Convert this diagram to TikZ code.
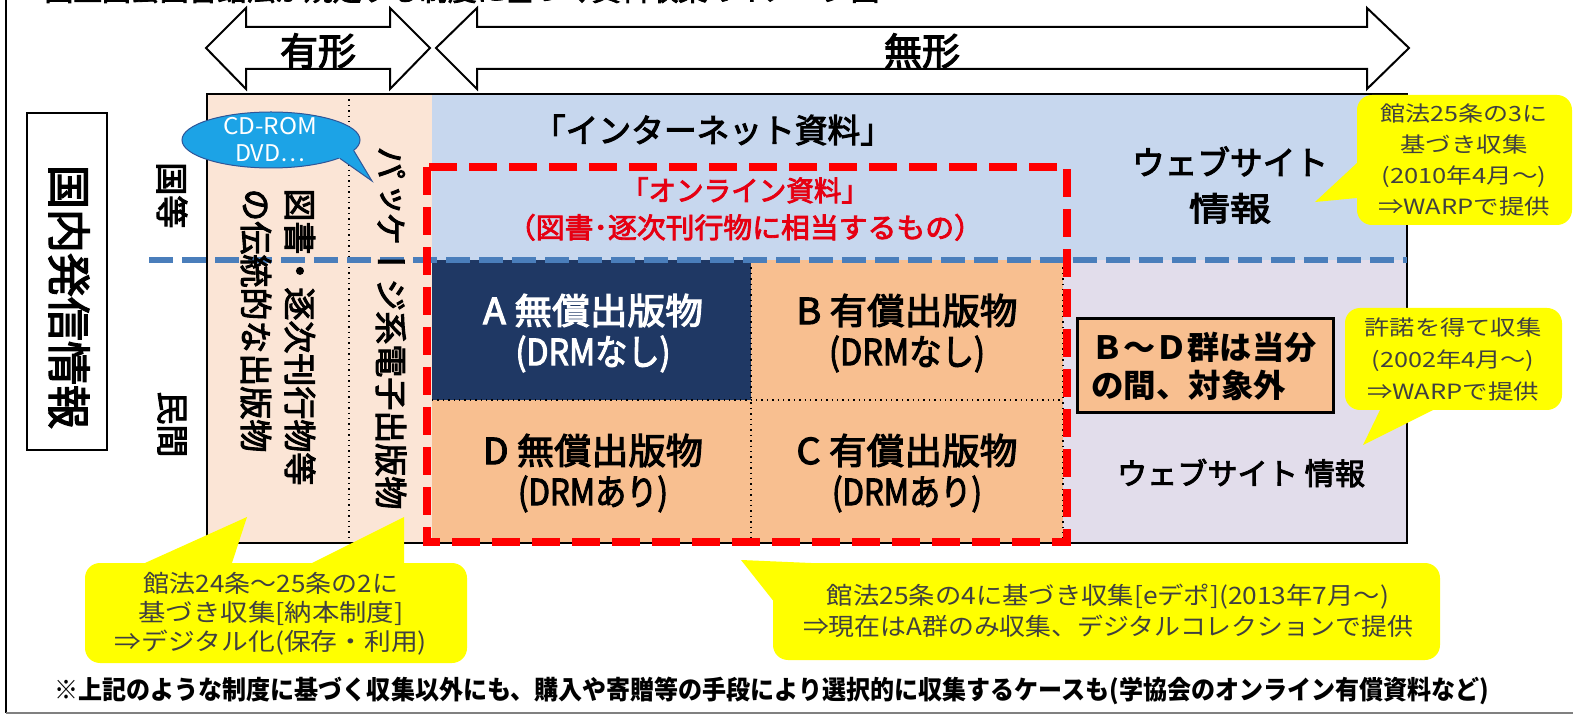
\documentclass[tikz,border=0pt]{standalone}
\usepackage{fontspec}
\usepackage{graphicx}
\setmainfont{Noto Sans CJK JP}[FakeBold=3]
\newfontfamily\vjp[Vertical=RotatedGlyphs, FakeBold=3]{Noto Sans CJK JP}
\newfontfamily\jp{Noto Sans CJK JP}
\newlength\upx
\setlength\upx{0.5pt}
\newcommand{\fw}[2]{\resizebox{#1\upx}{\height}{#2}}
\definecolor{beige}{HTML}{FBE5D6}
\definecolor{blueR}{HTML}{C7D7EE}
\definecolor{lav}{HTML}{E2DDEB}
\definecolor{orng}{HTML}{F8BF90}
\definecolor{navy}{HTML}{1F3864}
\definecolor{dashblue}{HTML}{4A7EBB}
\definecolor{redd}{HTML}{FF0000}
\definecolor{bubY}{HTML}{FFFF00}
\definecolor{cdblue}{HTML}{1CA3E6}
\definecolor{cdedge}{HTML}{2F5597}
\definecolor{btxt}{HTML}{404040}
\definecolor{redtxt}{HTML}{E60012}
\tikzset{
  vtxt/.style={rotate=-90, inner sep=0pt},
  lbl/.style={inner sep=0pt, align=center},
  bubble/.style={fill=bubY, rounded corners=7.5pt},
  btext/.style={inner sep=0pt, align=center, text=btxt},
  blockarrow/.style={fill=white, draw=black, line width=1pt, line join=miter},
  dotln/.style={dotted, line width=0.7pt},
}
\begin{document}
\begin{tikzpicture}[x=0.5pt,y=-0.5pt]
\useasboundingbox (0,0) rectangle (1573,715);
\begin{scope}
\clip (0,0) rectangle (1573,715);
% title (cut off at the top)
\node[lbl, font=\fontsize{14}{14}\selectfont] (title) at (462,-10) {\fw{835}{国立国会図書館法が規定する制度に基づく資料収集のイメージ図}};

% regions
\fill[beige] (207,94) rectangle (432,543);
\fill[blueR] (432,94) rectangle (1407,260);
\fill[lav] (1063,260) rectangle (1407,543);
\fill[navy] (432,260) rectangle (751,400);
\fill[orng] (751,260) rectangle (1063,400);
\fill[orng] (432,400) rectangle (751,543);
\fill[orng] (751,400) rectangle (1063,543);
\draw[line width=0.8pt] (207,94) rectangle (1407,543);
\draw[dotln] (349,94) -- (349,543);
\draw[dotln] (751,262) -- (751,543);
\draw[dotln] (432,400) -- (1063,400);
\draw[dotln] (1063,262) -- (1063,543);
\draw[dashblue, line width=3pt, dash pattern=on 12pt off 4.5pt] (149,260) -- (1407,260);
\draw[redd, line width=4pt, dash pattern=on 14pt off 6pt] (427,167) rectangle (1067,542);

% texts in regions
\node[lbl, font=\fontsize{16.5}{16.5}\selectfont] (inet) at (713,130) {\fw{360}{「インターネット資料」}};
\node[lbl, text=redtxt, font=\fontsize{14}{18.5}\selectfont] (onl) at (745,209) {\fw{248}{「オンライン資料」}\\\fw{476}{（図書･逐次刊行物に相当するもの）}};
\node[lbl, font=\fontsize{16.5}{23}\selectfont] (web1) at (1230,185) {\fw{196}{ウェブサイト}\\\fw{82}{情報}};
\node[lbl, font=\fontsize{15}{15}\selectfont] (web2) at (1241,473) {\fw{248}{ウェブサイト 情報}};
\node[lbl, text=white, font=\fontsize{18}{20.5}\selectfont] (cA) at (593,333) {\fw{220}{A 無償出版物}\\\fw{155}{(DRMなし)}};
\node[lbl, font=\fontsize{18}{20.5}\selectfont] (cB) at (907,333) {\fw{221}{B 有償出版物}\\\fw{156}{(DRMなし)}};
\node[lbl, font=\fontsize{18}{20.5}\selectfont] (cD) at (593,473) {\fw{220}{D 無償出版物}\\\fw{150}{(DRMあり)}};
\node[lbl, font=\fontsize{18}{20.5}\selectfont] (cC) at (907,473) {\fw{221}{C 有償出版物}\\\fw{150}{(DRMあり)}};

% B-D box
\draw[fill=orng, line width=1.5pt] (1077,319) rectangle (1333,413);
\node[lbl, align=left, anchor=west, font=\jp\bfseries\fontsize{16}{19}\selectfont] (bd) at (1091,366) {\fw{225}{Ｂ～Ｄ群は当分}\\\fw{195}{の間、対象外}};

% vertical texts
\node[vtxt, anchor=west, font=\vjp\fontsize{16.5}{16.5}\selectfont] (kuni) at (172,162) {国等};
\node[vtxt, anchor=west, font=\vjp\fontsize{16.5}{16.5}\selectfont] (min) at (172,391) {民間};
\node[vtxt, anchor=west, font=\vjp\fontsize{16.5}{16.5}\selectfont] (col1) at (300,188) {図書・逐次刊行物等};
\node[vtxt, anchor=west, font=\vjp\fontsize{16.5}{16.5}\selectfont] (col2) at (256,188) {の伝統的な出版物};
\node[vtxt, anchor=west, font=\vjp\fontsize{16.5}{16.5}\selectfont] (col3) at (391,146) {パッケージ系電子出版物};
\draw[line width=1pt] (27,113) rectangle (107,450);
\node[vtxt, font=\vjp\fontsize{22}{22}\selectfont] (kokunai) at (69,297) {国内発信情報};

% CD-ROM callout
\draw[fill=cdblue, draw=cdedge, line width=0.5pt] (271,140) ellipse [x radius=89, y radius=28];
\fill[cdblue] (333,155) -- (340,158.5) -- (372,181) -- (354,151) -- (348,148) -- cycle;
\draw[cdedge, line width=0.5pt] (340,158.5) -- (372,181) -- (354,151);
\node[lbl, text=white, font=\jp\fontsize{11.5}{13.5}\selectfont] (cd) at (270,140) {\fw{94}{CD-ROM}\\\fw{70}{DVD…}};

% arrows
\draw[blockarrow] (206,48) -- (246,8) -- (246,27) -- (390,27) -- (390,8) -- (430,48) -- (390,89) -- (390,69) -- (246,69) -- (246,89) -- cycle;
\draw[blockarrow] (436,48) -- (477,8) -- (477,27) -- (1367,27) -- (1367,8) -- (1409,48) -- (1367,89) -- (1367,69) -- (477,69) -- (477,89) -- cycle;
\node[lbl, font=\fontsize{19}{19}\selectfont] (yukei) at (318,51) {有形};
\node[lbl, font=\fontsize{19}{19}\selectfont] (mukei) at (922,51) {無形};

% bubbles
\fill[bubble] (1357,95) rectangle (1572,225);
\coordinate (t1) at (1315,202);
\fill[bubY] (1357,163) -- (t1) -- (1357,198) -- (1380,198) -- (1380,163) -- cycle;
\node[btext, font=\jp\fontsize{10.5}{15.5}\selectfont] (b1) at (1464,160) {\fw{167}{館法25条の3に}\\\fw{127}{基づき収集}\\\fw{165}{(2010年4月～)}\\\fw{172}{⇒WARPで提供}};

\fill[bubble] (1345,308) rectangle (1562,410);
\coordinate (t2) at (1363,445);
\fill[bubY] (1380,400) -- (1380,410) -- (t2) -- (1433,410) -- (1433,400) -- cycle;
\node[btext, font=\jp\fontsize{10.5}{16}\selectfont] (b2) at (1453,360) {\fw{177}{許諾を得て収集}\\\fw{163}{(2002年4月～)}\\\fw{172}{⇒WARPで提供}};

\fill[bubble] (85,563) rectangle (467,663);
\coordinate (t3a) at (247,517);
\coordinate (t3b) at (404,517);
\fill[bubY] (145,570) -- (145,563) -- (t3a) -- (232,563) -- (232,570) -- cycle;
\fill[bubY] (312,570) -- (312,563) -- (t3b) -- (404,570) -- cycle;
\node[btext, font=\jp\fontsize{12}{14.5}\selectfont] (b3) at (271,614) {\fw{254}{館法24条～25条の2に}\\\fw{265}{基づき収集[納本制度]}\\\fw{312}{⇒デジタル化(保存・利用)}};

\fill[bubble] (773,563) rectangle (1440,660);
\coordinate (t4) at (741,560);
\fill[bubY] (t4) -- (811,563) -- (811,603) -- (775,603) -- cycle;
\node[btext, font=\jp\fontsize{12}{15.5}\selectfont] (b4) at (1108,611) {\fw{562}{館法25条の4に基づき収集[eデポ](2013年7月～)}\\\fw{610}{⇒現在はA群のみ収集、デジタルコレクションで提供}};

% footnote
\node[lbl, font=\jp\bfseries\fontsize{13}{13}\selectfont] (note) at (772,691) {\fw{1435}{※上記のような制度に基づく収集以外にも、購入や寄贈等の手段により選択的に収集するケースも(学協会のオンライン有償資料など)}};

% frame
\draw[line width=1pt] (6,0) -- (6,713);
\draw[gray, line width=1pt] (6,713) -- (1573,713);
\end{scope}
\end{tikzpicture}
\end{document}
